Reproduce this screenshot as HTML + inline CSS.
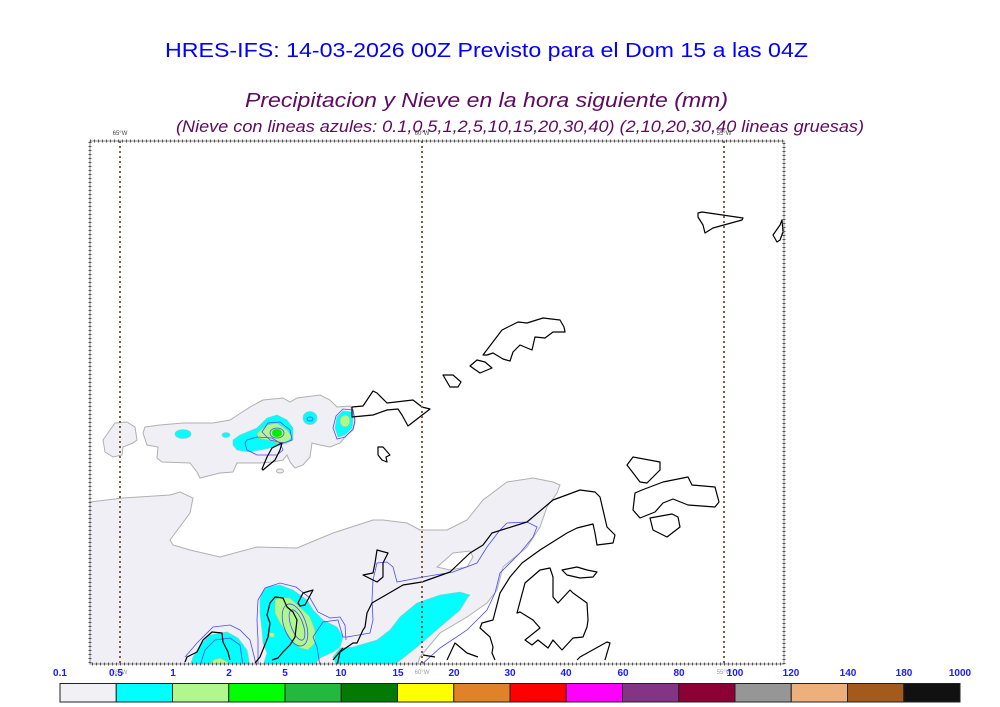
<!DOCTYPE html>
<html><head><meta charset="utf-8"><style>
html,body{margin:0;padding:0;background:#fff;}
svg{display:block;}
</style></head><body>
<svg width="1000" height="707" viewBox="0 0 1000 707" xmlns="http://www.w3.org/2000/svg">
<rect width="1000" height="707" fill="#fff"/>
<!-- titles -->
<text x="165" y="57" font-family="Liberation Sans, sans-serif" font-size="20" fill="#0000ff" textLength="643" lengthAdjust="spacingAndGlyphs">HRES-IFS: 14-03-2026 00Z Previsto para el Dom 15 a las 04Z</text>
<text x="245" y="107" font-family="Liberation Sans, sans-serif" font-size="20" font-style="italic" fill="#5e0a5e" textLength="483" lengthAdjust="spacingAndGlyphs">Precipitacion y Nieve en la hora siguiente (mm)</text>
<text x="176" y="132" font-family="Liberation Sans, sans-serif" font-size="16.5" font-style="italic" fill="#5e0a5e" textLength="688" lengthAdjust="spacingAndGlyphs">(Nieve con lineas azules: 0.1,0.5,1,2,5,10,15,20,30,40)  (2,10,20,30,40 lineas gruesas)</text>

<g font-family="Liberation Sans, sans-serif" font-size="6" fill="#444" text-anchor="middle">
<text x="120" y="135">65°W</text><text x="422" y="135">60°W</text><text x="724" y="135">55°W</text>
</g>
<g font-family="Liberation Sans, sans-serif" font-size="6" fill="#999" text-anchor="middle">
<text x="120" y="674">65°W</text><text x="422" y="674">60°W</text><text x="724" y="674">55°W</text>
</g>

<clipPath id="mc"><rect x="90" y="141" width="694" height="523"/></clipPath>
<g clip-path="url(#mc)">
<!-- gray areas -->
<g fill="#efeff5" stroke="#b0b0b0" stroke-width="1">
<polygon points="90,502 123,498 170,495 180,492 193,498 190,513 170,540 173,545 190,550 220,557 257,547 297,548 333,533 373,520 383,520 407,523 420,530 447,530 467,520 483,500 507,482 533,478 553,482 560,485 557,493 547,507 540,527 527,547 503,567 497,590 487,603 467,617 440,633 420,657 417,666 90,666"/>
<polygon points="103,440 110,430 115,423 127,422 135,427 137,440 133,443 123,447 122,455 113,457 105,452"/>
<polygon points="145,427 160,425 183,423 200,423 213,423 230,420 250,407 263,400 283,398 290,402 297,398 320,395 330,400 337,407 350,406 353,410 355,423 353,430 347,435 340,443 330,447 320,445 312,443 310,457 303,465 295,468 290,462 287,455 283,460 273,462 260,463 237,463 233,472 220,473 200,478 197,472 190,463 162,462 157,458 158,447 147,445 143,433"/>
<ellipse cx="280" cy="471" rx="3.5" ry="2"/>
</g>
<polygon points="437,567 453,553 470,551 473,557 467,567 450,570" fill="#fff" stroke="#b0b0b0" stroke-width="1"/>

<!-- cyan -->
<g fill="#00ffff" stroke="#90c8c8" stroke-width="0.6">
<polygon points="233,440 240,435 257,428 267,418 277,415 287,420 293,428 293,440 287,443 280,445 270,448 260,450 250,452 237,450 233,445"/>
<ellipse cx="183" cy="434" rx="8" ry="4.5"/>
<ellipse cx="226" cy="435" rx="4" ry="2.5"/>
<ellipse cx="310" cy="418" rx="7" ry="6.5"/>
<polygon points="337,417 343,411 352,412 353,420 352,428 345,435 338,437 335,428"/>
<polygon points="470,595 460,592 440,595 417,603 400,617 390,630 377,640 353,647 340,648 333,657 337,666 393,666 417,647 440,627 460,610 468,597"/>
<polygon points="262,593 267,587 280,585 293,590 307,600 313,610 323,620 337,627 343,637 340,647 333,652 320,658 313,666 263,666 267,653 263,643 262,630 260,613 260,600"/>
<polygon points="193,657 200,645 210,635 227,632 238,638 247,650 250,666 190,666"/>
</g>
<!-- light green -->
<g fill="#b0f78e" stroke="#a0c090" stroke-width="0.5">
<polygon points="257,433 267,425 277,423 287,430 292,437 287,442 277,443 267,440 258,438"/>
<ellipse cx="345" cy="421" rx="5" ry="6"/>
<polygon points="275,600 280,597 290,598 300,607 310,617 315,630 315,643 308,650 300,648 293,642 287,633 280,623 275,613"/>
<polygon points="210,666 213,660 220,658 228,662 230,666"/>
<circle cx="272" cy="635" r="2.5"/>
</g>
<ellipse cx="277" cy="433" rx="5" ry="4" fill="#00ee00"/>

<!-- blue contours -->
<g fill="none" stroke="#4a4aff" stroke-width="0.8">
<polygon points="247,440 257,437 272,438 280,443 283,450 277,455 257,455 247,450 245,443"/>
<polygon points="268,423 280,422 290,430 292,440 283,443 270,440 262,432"/>
<ellipse cx="277" cy="433" rx="7" ry="5"/>
<ellipse cx="310" cy="419" rx="3" ry="2"/>
<polygon points="336,416 343,409 353,410 355,420 353,429 345,437 337,439 333,428"/>
<polyline points="420,666 440,648 467,630 487,610 495,593 500,573 520,553 533,537 537,527 527,522 507,523 500,530 487,547 477,563 453,572 423,577 397,582 393,567 387,562 377,563 373,580 372,600 373,620 370,633 347,637 343,637 338,620 323,622 313,637 317,647 320,666"/>
<polyline points="185,657 197,643 213,627 230,625 240,630 250,640 255,660 256,666"/>
<polyline points="258,666 258,640 257,620 258,600 265,588 280,583 296,587 310,598 318,612 330,618 340,617 345,625 346,640"/>
<ellipse cx="295" cy="625" rx="11" ry="22" transform="rotate(-20 295 625)"/>
<ellipse cx="297" cy="625" rx="6" ry="16" transform="rotate(-20 297 625)"/>
<polyline points="200,666 205,650 215,640 230,638 240,645 243,666"/>
</g>

<!-- coastlines -->
<g fill="none" stroke="#000" stroke-width="1.2" stroke-linejoin="round">
<polygon points="352,407 352,417 373,415 387,410 398,409 402,415 408,426 430,409 422,407 413,400 387,403 377,393 373,391 367,400 363,406"/>
<polyline points="378,455 378,447 383,447 390,455 386,457 387,462 382,460 378,455"/>
<polygon points="443,375 453,375 461,382 458,387 450,387"/>
<polygon points="470,366 477,360 485,362 492,368 480,373"/>
<polygon points="483,355 502,330 518,322 527,323 543,318 560,320 564,327 565,332 553,332 545,338 535,337 532,350 520,345 513,352 510,361 503,359 493,353 487,355"/>
<polygon points="627,465 633,457 660,462 660,470 647,483 640,482"/>
<polygon points="635,493 642,490 663,482 688,477 692,485 715,487 719,502 715,507 688,505 673,499 663,503 655,512 640,518 633,510"/>
<polygon points="650,518 672,514 678,517 680,527 667,537 653,530"/>
<polyline points="337,666 340,652 353,643 357,643 363,630 365,627 367,613 372,603 403,585 422,582 450,572 470,553 483,545 492,533 527,522 553,500 580,490 595,492 600,497 607,527 615,535 613,543 597,545 595,533 593,524 577,528 567,533 540,550 522,563 510,577 500,593 493,620 482,623 480,628 490,637 493,647 492,653 495,660"/>
<polyline points="423,655 435,657"/>
<polyline points="447,660 455,643 467,653 478,657"/>
<polygon points="520,612 517,613 525,583 540,570 550,568 553,577 553,597 558,603 570,590 573,593 587,603 588,620 587,627 583,637 573,638 562,650 553,640 548,648 538,640 532,645 525,640 540,628 533,620"/>
<polygon points="562,570 577,567 587,570 597,572 593,577 580,578 567,575"/>
<polyline points="577,660 580,657 607,642 610,643 605,660"/>
<polygon points="377,550 388,553 383,563 383,577 377,582 363,575 373,573 375,563"/>
<polygon points="262,469 267,457 272,448 282,443 280,450 275,460 263,470"/>
<polyline points="185,662 187,657 197,652 203,640 212,632 222,633 223,642 228,652 230,660"/>
<polyline points="255,663 260,657 268,637 270,623 267,615 270,603 275,597 283,598 287,607 293,612 297,620 295,637 290,645 283,652 278,658 272,660"/>
<polygon points="298,603 303,593 313,590 305,605 300,606"/>
<polyline points="333,660 343,648"/>
<polygon points="698,213 702,212 743,218 742,220 713,228 705,233 703,225 698,217"/>
<polygon points="782,220 780,225 773,235 777,242 780,240 783,232"/>
</g>
</g>

<!-- meridians -->
<g stroke="#806040" stroke-width="2" stroke-dasharray="2,3">
<line x1="120" y1="141" x2="120" y2="664"/>
<line x1="422" y1="141" x2="422" y2="664"/>
<line x1="724" y1="141" x2="724" y2="664"/>
</g>
<!-- frame -->
<rect x="90" y="141" width="694" height="523" fill="none" stroke="#888" stroke-width="1"/>
<rect x="90" y="141" width="694" height="523" fill="none" stroke="#555" stroke-width="3" stroke-dasharray="1,3"/>

<!-- colorbar -->
<g stroke="#222" stroke-width="1">
<rect x="60" y="683.5" width="56.25" height="18.5" fill="#f0f0f5"/>
<rect x="116.25" y="683.5" width="56.25" height="18.5" fill="#00ffff"/>
<rect x="172.5" y="683.5" width="56.25" height="18.5" fill="#b0f78e"/>
<rect x="228.75" y="683.5" width="56.25" height="18.5" fill="#00ff00"/>
<rect x="285" y="683.5" width="56.25" height="18.5" fill="#22b93c"/>
<rect x="341.25" y="683.5" width="56.25" height="18.5" fill="#037a03"/>
<rect x="397.5" y="683.5" width="56.25" height="18.5" fill="#ffff00"/>
<rect x="453.75" y="683.5" width="56.25" height="18.5" fill="#e08228"/>
<rect x="510" y="683.5" width="56.25" height="18.5" fill="#ff0000"/>
<rect x="566.25" y="683.5" width="56.25" height="18.5" fill="#ff00ff"/>
<rect x="622.5" y="683.5" width="56.25" height="18.5" fill="#843484"/>
<rect x="678.75" y="683.5" width="56.25" height="18.5" fill="#8c0036"/>
<rect x="735" y="683.5" width="56.25" height="18.5" fill="#969696"/>
<rect x="791.25" y="683.5" width="56.25" height="18.5" fill="#edb07a"/>
<rect x="847.5" y="683.5" width="56.25" height="18.5" fill="#a45a1a"/>
<rect x="903.75" y="683.5" width="56.25" height="18.5" fill="#111111"/>
</g>
<g font-family="Liberation Sans, sans-serif" font-size="10" font-weight="bold" fill="#1a1aff" text-anchor="middle">
<text x="60" y="676">0.1</text><text x="116" y="676">0.5</text><text x="173" y="676">1</text><text x="229" y="676">2</text>
<text x="285" y="676">5</text><text x="341" y="676">10</text><text x="398" y="676">15</text><text x="454" y="676">20</text>
<text x="510" y="676">30</text><text x="566" y="676">40</text><text x="623" y="676">60</text><text x="679" y="676">80</text>
<text x="735" y="676">100</text><text x="791" y="676">120</text><text x="848" y="676">140</text><text x="904" y="676">180</text>
<text x="960" y="676">1000</text>
</g>
</svg>
</body></html>
